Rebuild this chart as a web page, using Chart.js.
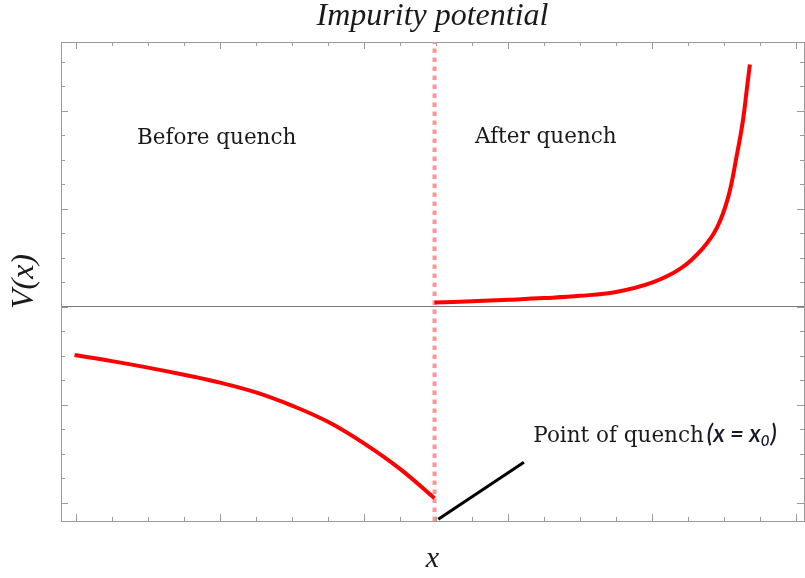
<!DOCTYPE html>
<html>
<head>
<meta charset="utf-8">
<title>Impurity potential</title>
<script src="https://cdn.jsdelivr.net/npm/chart.js@4.4.1/dist/chart.umd.min.js"></script>
<style>
    html, body { margin: 0; padding: 0; background: #ffffff; }
    canvas { display: block; }
</style>
</head>
<body>
<canvas id="potentialChart" width="805" height="578"></canvas>
<script>
// potential before the quench (x < x0)
var beforeX = [-0.01, 0.25, 0.5, 0.75, 1.0, 1.25, 1.5, 1.75, 2.0, 2.25, 2.49];
var beforeY = [-0.494, -0.556, -0.622, -0.695, -0.775, -0.875, -1.01, -1.175, -1.395, -1.655, -1.955];

// potential after the quench (x > x0)
var afterX = [2.49, 2.75, 3.0, 3.25, 3.5, 3.75, 4.0, 4.2, 4.35, 4.45, 4.53, 4.59, 4.63, 4.66, 4.68];
var afterY = [0.041, 0.055, 0.07, 0.087, 0.11, 0.15, 0.245, 0.39, 0.59, 0.80, 1.12, 1.55, 1.88, 2.23, 2.47];

// point of quench and the pointer to it
var quenchX = 2.49;
var pointerX = [2.516, 3.111];
var pointerY = [-2.169, -1.588];

var xRange = [-0.104, 5.056];
var yRange = [-2.187, 2.70];

function toPoints(xs, ys) {
    return xs.map(function (x, i) {
        return { x: x, y: ys[i] };
    });
}

var frameColor = '#9a9a9a';

// Mathematica style inward ticks on all four frame edges
var frameTicks = {
    id: 'frameTicks',
    afterDraw: function (chart) {
        var ctx = chart.ctx;
        var area = chart.chartArea;
        ctx.save();
        ctx.strokeStyle = frameColor;
        ctx.lineWidth = 1;
        ['x', 'xTop', 'y', 'yRight'].forEach(function (id) {
            var scale = chart.scales[id];
            scale.ticks.forEach(function (t) {
                var major = Math.abs(t.value - Math.round(t.value)) < 1e-6;
                var len = major ? 7 : 4;
                var p = Math.round(scale.getPixelForValue(t.value)) + 0.5;
                ctx.beginPath();
                if (id === 'x') {
                    ctx.moveTo(p, area.bottom);
                    ctx.lineTo(p, area.bottom - len);
                } else if (id === 'xTop') {
                    ctx.moveTo(p, area.top);
                    ctx.lineTo(p, area.top + len);
                } else if (id === 'y') {
                    ctx.moveTo(area.left, p);
                    ctx.lineTo(area.left + len, p);
                } else {
                    ctx.moveTo(area.right, p);
                    ctx.lineTo(area.right - len, p);
                }
                ctx.stroke();
            });
        });
        ctx.restore();
    }
};

// text notes placed in data coordinates
var notes = {
    id: 'notes',
    afterDatasetsDraw: function (chart) {
        var ctx = chart.ctx;
        var sx = chart.scales.x;
        var sy = chart.scales.y;
        ctx.save();
        ctx.fillStyle = '#1a1a1a';
        ctx.textBaseline = 'alphabetic';
        ctx.textAlign = 'left';
        ctx.font = '21.5px "DejaVu Serif"';
        ctx.fillText('Before quench', sx.getPixelForValue(0.424), sy.getPixelForValue(1.66));
        ctx.fillText('After quench', sx.getPixelForValue(2.771), sy.getPixelForValue(1.667));

        var px = sx.getPixelForValue(3.176);
        var py = sy.getPixelForValue(-1.378);
        ctx.font = '21.5px "DejaVu Serif"';
        var lead = 'Point of quench';
        ctx.fillText(lead, px, py);
        px += ctx.measureText(lead).width + 3;

        ctx.fillStyle = '#161a2a';
        ctx.font = 'italic 600 24px Lato';
        var part = '(x = x';
        ctx.fillText(part, px, py);
        px += ctx.measureText(part).width;
        ctx.font = 'italic 600 15px Lato';
        ctx.fillText('0', px, py + 4);
        px += ctx.measureText('0').width + 1;
        ctx.font = 'italic 600 24px Lato';
        ctx.fillText(')', px, py);
        ctx.restore();
    }
};

var hiddenGrid = { display: false, drawTicks: false };

new Chart(document.getElementById('potentialChart'), {
    type: 'line',
    data: {
        datasets: [
            {
                data: toPoints(beforeX, beforeY),
                borderColor: '#ff0000',
                borderWidth: 4,
                pointRadius: 0,
                tension: 0.4
            },
            {
                data: toPoints(afterX, afterY),
                borderColor: '#ff0000',
                borderWidth: 4,
                pointRadius: 0,
                tension: 0.4
            },
            {
                data: toPoints(pointerX, pointerY),
                borderColor: '#000000',
                borderWidth: 3,
                pointRadius: 0
            },
            {
                data: toPoints([quenchX, quenchX], yRange),
                borderColor: '#ff9494',
                borderWidth: 4,
                borderDash: [4.5, 4.5],
                pointRadius: 0
            }
        ]
    },
    options: {
        responsive: false,
        devicePixelRatio: 1,
        animation: false,
        layout: {
            padding: { left: 0, right: 1, top: 0, bottom: 0 }
        },
        scales: {
            x: {
                type: 'linear',
                position: 'bottom',
                min: xRange[0],
                max: xRange[1],
                ticks: { display: false, stepSize: 0.25, includeBounds: false },
                grid: hiddenGrid,
                border: { color: frameColor, width: 1 },
                title: {
                    display: true,
                    text: 'x',
                    color: '#1a1a1a',
                    font: { family: '"Liberation Serif"', style: 'italic', size: 30, lineHeight: 1.2 },
                    padding: { top: 20.6, bottom: 0.4 }
                }
            },
            xTop: {
                type: 'linear',
                position: 'top',
                min: xRange[0],
                max: xRange[1],
                ticks: { display: false, stepSize: 0.25, includeBounds: false },
                grid: hiddenGrid,
                border: { color: frameColor, width: 1 }
            },
            y: {
                type: 'linear',
                position: 'left',
                min: yRange[0],
                max: yRange[1],
                ticks: { display: false, stepSize: 0.25, includeBounds: false },
                grid: {
                    display: true,
                    drawTicks: false,
                    color: function (ctx) {
                        return ctx.tick && Math.abs(ctx.tick.value) < 1e-9 ? '#7a7a7a' : 'rgba(0,0,0,0)';
                    }
                },
                border: { color: frameColor, width: 1 },
                title: {
                    display: true,
                    text: 'V(x)',
                    color: '#1a1a1a',
                    font: { family: '"Liberation Serif"', style: 'italic', size: 32, lineHeight: 1.2 },
                    padding: { top: 5.3, bottom: 17.3 }
                }
            },
            yRight: {
                type: 'linear',
                position: 'right',
                min: yRange[0],
                max: yRange[1],
                ticks: { display: false, stepSize: 0.25, includeBounds: false },
                grid: hiddenGrid,
                border: { color: frameColor, width: 1 }
            }
        },
        plugins: {
            legend: { display: false },
            tooltip: { enabled: false },
            title: {
                display: true,
                fullSize: false,
                text: 'Impurity potential',
                color: '#1a1a1a',
                font: { family: '"Liberation Serif"', style: 'italic', weight: 'normal', size: 32, lineHeight: 1 },
                padding: { top: 1, bottom: 9 }
            }
        }
    },
    plugins: [frameTicks, notes]
});
</script>
</body>
</html>
